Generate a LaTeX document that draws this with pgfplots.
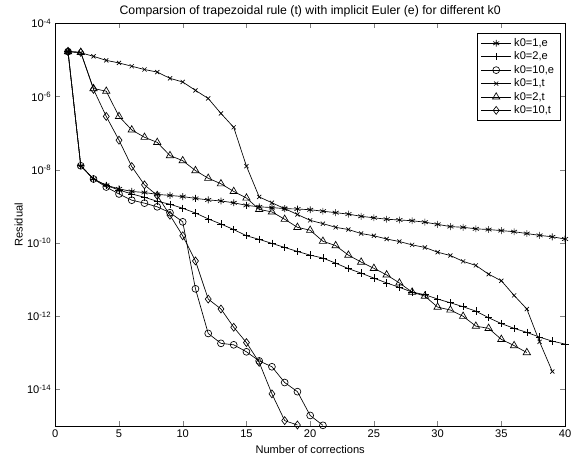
\documentclass[border=0pt]{standalone}
\usepackage{fontspec}
\setmainfont{Liberation Sans}
\usepackage{pgfplots}
\pgfplotsset{compat=1.18}
\begin{document}
\fontsize{8.4}{10}\selectfont
\begin{tikzpicture}
\begin{axis}[
    scale only axis,
    width=385.5pt, height=304.5pt,
    ymode=log, log basis y=10,
    xmin=0, xmax=40, ymin=1e-15, ymax=1e-4,
    xtick={0,5,...,40},
    ytick={1e-4,1e-6,1e-8,1e-10,1e-12,1e-14},
    yminorticks=false,
    tick align=inside,
    major tick length=3.5pt,
    axis line style={line width=0.6pt},
    /pgf/number format/assume math mode=true,
    yticklabel={10\textsuperscript{\pgfmathparse{int(round(\tick))}\pgfmathresult}},
    tick label style={font=\fontsize{8.4}{10}\selectfont},
    label style={font=\fontsize{8.4}{10}\selectfont},
    title style={font=\fontsize{9.3}{11}\selectfont, yshift=-4pt},
    ylabel style={yshift=-2.6pt},
    title={Comparsion of trapezoidal rule (t) with implicit Euler (e) for different k0},
    xlabel={Number of corrections},
    ylabel={Residual},
    clip=false,
    every axis plot/.append style={black, line width=0.5pt},
    legend style={at={(0.992,0.975)}, anchor=north east,
        font=\fontsize{8.4}{10}\selectfont, draw=black, line width=0.5pt,
        row sep=-1.2pt, inner ysep=1.5pt},
    legend cell align=left,
    legend image code/.code={\draw[mark repeat=2,mark phase=2] plot coordinates {(0cm,0cm)(0.4cm,0cm)(0.8cm,0cm)};},
]
% k0=1, implicit Euler
\addplot[mark=asterisk, mark size=2.6pt] coordinates {
(1,1.70e-5)(2,1.29e-8)(3,5.62e-9)(4,3.80e-9)(5,3.02e-9)(6,2.57e-9)(7,2.40e-9)(8,2.14e-9)
(9,2.00e-9)(10,1.86e-9)(11,1.66e-9)(12,1.51e-9)(13,1.41e-9)(14,1.26e-9)(15,1.07e-9)
(16,9.77e-10)(17,9.33e-10)(18,8.71e-10)(19,8.51e-10)(20,8.13e-10)(21,7.41e-10)(22,6.76e-10)
(23,6.17e-10)(24,5.37e-10)(25,4.90e-10)(26,4.47e-10)(27,4.27e-10)(28,4.07e-10)(29,3.72e-10)
(30,3.24e-10)(31,2.82e-10)(32,2.69e-10)(33,2.45e-10)(34,2.34e-10)(35,2.19e-10)(36,2.04e-10)
(37,1.82e-10)(38,1.62e-10)(39,1.48e-10)(40,1.29e-10)};
% k0=2, implicit Euler
\addplot[mark=+, mark size=2.8pt] coordinates {
(1,1.70e-5)(2,1.29e-8)(3,5.62e-9)(4,3.72e-9)(5,2.82e-9)(6,2.19e-9)(7,1.78e-9)(8,1.38e-9)
(9,1.15e-9)(10,8.91e-10)(11,6.61e-10)(12,4.57e-10)(13,3.31e-10)(14,2.34e-10)(15,1.58e-10)
(16,1.26e-10)(17,9.77e-11)(18,7.59e-11)(19,5.89e-11)(20,4.68e-11)(21,3.89e-11)(22,2.82e-11)
(23,2.00e-11)(24,1.51e-11)(25,1.10e-11)(26,8.13e-12)(27,6.17e-12)(28,4.57e-12)(29,3.89e-12)
(30,2.95e-12)(31,2.34e-12)(32,1.82e-12)(33,1.38e-12)(34,9.12e-13)(35,6.31e-13)(36,4.68e-13)
(37,3.63e-13)(38,2.69e-13)(39,2.09e-13)(40,1.74e-13)};
% k0=10, implicit Euler
\addplot[mark=o, mark size=2.6pt] coordinates {
(1,1.70e-5)(2,1.29e-8)(3,5.62e-9)(4,3.39e-9)(5,2.19e-9)(6,1.48e-9)(7,1.23e-9)(8,9.77e-10)
(9,6.76e-10)(10,3.80e-10)(11,5.62e-12)(12,3.39e-13)(13,1.82e-13)(14,1.66e-13)(15,1.07e-13)
(16,6.03e-14)(17,4.17e-14)(18,1.55e-14)(19,8.71e-15)(20,1.95e-15)(21,1.05e-15)};
% k0=1, trapezoidal
\addplot[mark=x, mark size=2.2pt] coordinates {
(1,1.70e-5)(2,1.58e-5)(3,1.26e-5)(4,9.77e-6)(5,8.32e-6)(6,6.76e-6)(7,5.50e-6)(8,4.68e-6)
(9,3.16e-6)(10,2.51e-6)(11,1.48e-6)(12,8.91e-7)(13,3.47e-7)(14,1.45e-7)(15,1.26e-8)
(16,1.82e-9)(17,1.26e-9)(18,8.71e-10)(19,6.03e-10)(20,4.17e-10)(21,3.39e-10)(22,2.69e-10)
(23,2.34e-10)(24,1.82e-10)(25,1.58e-10)(26,1.29e-10)(27,1.10e-10)(28,8.91e-11)(29,7.59e-11)
(30,5.62e-11)(31,4.57e-11)(32,3.16e-11)(33,2.45e-11)(34,1.41e-11)(35,9.33e-12)(36,3.72e-12)
(37,1.58e-12)(38,2.00e-13)(39,3.09e-14)};
% k0=2, trapezoidal
\addplot[mark=triangle, mark size=3.2pt] coordinates {
(1,1.70e-5)(2,1.62e-5)(3,1.66e-6)(4,1.41e-6)(5,2.88e-7)(6,1.23e-7)(7,7.76e-8)(8,5.62e-8)
(9,2.45e-8)(10,1.78e-8)(11,9.55e-9)(12,5.89e-9)(13,4.17e-9)(14,2.57e-9)(15,1.70e-9)
(16,8.32e-10)(17,7.08e-10)(18,4.47e-10)(19,2.69e-10)(20,2.24e-10)(21,1.12e-10)(22,8.51e-11)
(23,4.68e-11)(24,3.02e-11)(25,2.04e-11)(26,1.35e-11)(27,8.13e-12)(28,4.57e-12)(29,3.55e-12)
(30,1.78e-12)(31,1.48e-12)(32,1.00e-12)(33,5.37e-13)(34,4.68e-13)(35,2.34e-13)(36,1.58e-13)
(37,1.02e-13)};
% k0=10, trapezoidal
\addplot[mark=diamond, mark size=3pt] coordinates {
(1,1.70e-5)(2,1.62e-5)(3,1.58e-6)(4,2.88e-7)(5,6.46e-8)(6,1.23e-8)(7,3.89e-9)(8,2.00e-9)
(9,5.75e-10)(10,1.58e-10)(11,3.24e-11)(12,2.95e-12)(13,1.58e-12)(14,5.01e-13)(15,1.91e-13)
(16,5.50e-14)(17,7.59e-15)(18,1.41e-15)(19,1.07e-15)};
\legend{{k0=1,e}, {k0=2,e}, {k0=10,e}, {k0=1,t}, {k0=2,t}, {k0=10,t}}
\end{axis}
\pgfresetboundingbox
\useasboundingbox ([xshift=-41.8pt,yshift=-22.3pt]current axis.south west) rectangle ([xshift=6pt,yshift=17.7pt]current axis.north east);
\end{tikzpicture}
\end{document}
